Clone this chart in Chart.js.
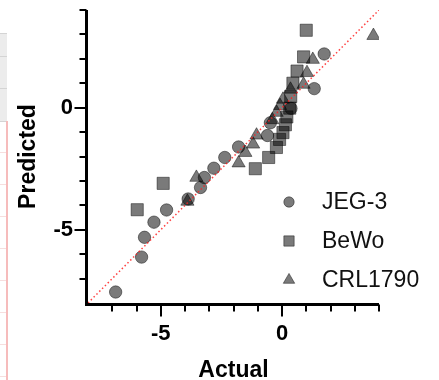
<!DOCTYPE html>
<html>
<head>
<meta charset="utf-8">
<title>Actual vs Predicted</title>
<script src="https://cdn.jsdelivr.net/npm/chart.js@4.4.1/dist/chart.umd.min.js"></script>
<style>
    html, body { margin: 0; padding: 0; background: #fff; }
    #wrap { position: relative; width: 439px; height: 380px; overflow: hidden; }
    #chart { position: absolute; left: 0; top: 0; }
    /* bit of spreadsheet left over from the screenshot crop */
    .sheet-head {
        position: absolute; left: 0; top: 33px; width: 7px; height: 87px;
        background: linear-gradient(#ececec, #ececec);
        border-top: 1px solid #d4d4d4; border-bottom: 1px solid #d4d4d4;
    }
    .sheet-head::before, .sheet-head::after {
        content: ''; position: absolute; left: 0; width: 7px; height: 1px; background: #d4d4d4;
    }
    .sheet-head::before { top: 22px; }
    .sheet-head::after { top: 54px; }
    .sheet-body {
        position: absolute; left: 0; top: 121px; width: 6px; height: 259px;
        border-right: 2px solid #f6bcbc;
        background: repeating-linear-gradient(to bottom, transparent 0, transparent 31px, #f7dede 31px, #f7dede 32px);
    }
</style>
</head>
<body>
<div id="wrap">
    <div class="sheet-head"></div>
    <div class="sheet-body"></div>
    <canvas id="chart" width="439" height="380"></canvas>
</div>
<script>
// Axis range (both axes share it) and labelled ticks
const axisMin = -8;
const axisMax = 4;
const tickStep = 1;
const labelledTicks = [-5, 0];

// Series: actual (x) and predicted (y) values
const seriesNames = ['JEG-3', 'BeWo', 'CRL1790'];
const seriesStyles = ['circle', 'rect', 'triangle'];

const jegActual    = [-6.86, -5.79, -5.67, -5.28, -4.76, -3.87, -3.36, -3.2, -2.81, -2.36, -1.79, -0.6, -0.48, 0.37, 1.33, 1.74];
const jegPredicted = [-7.55, -6.12, -5.31, -4.69, -4.19, -3.74, -3.27, -2.86, -2.48, -2.04, -1.61, -1.14, -0.62, -0.03, 0.78, 2.2];

const bewoActual    = [-5.97, -4.9, -1.1, -0.55, -0.23, -0.1, 0.04, 0.14, 0.2, 0.32, 0.36, 0.45, 0.62, 0.89, 1.0];
const bewoPredicted = [-4.18, -3.1, -2.5, -2.04, -1.63, -1.3, -1.02, -0.7, -0.38, -0.02, 0.46, 1.0, 1.5, 2.08, 3.17];

const crlActual    = [-3.9, -3.53, -1.79, -1.51, -1.19, -1.05, -0.4, -0.22, -0.08, 0.04, 0.35, 0.89, 1.03, 1.27, 3.77];
const crlPredicted = [-3.84, -2.86, -2.27, -1.84, -1.5, -1.13, -0.5, -0.2, 0.08, 0.34, 0.75, 0.95, 1.43, 1.97, 2.95];

const FONT = '"Liberation Sans", Arial, sans-serif';
const MARKER_FILL = 'rgba(0, 0, 0, 0.52)';
const MARKER_EDGE = 'rgba(0, 0, 0, 0.45)';
const markerRadius = { circle: 6.2, rect: 8.6, triangle: 7.6 };

function toPoints(xs, ys) {
    return xs.map(function (x, i) { return { x: x, y: ys[i] }; });
}

function tickLabel(value) {
    return labelledTicks.indexOf(value) !== -1 ? String(value) : null;
}

// keep the plot box where the reference has it, whatever the labels want
function fixBox(size) {
    return function (scale) {
        if (scale.isHorizontal()) scale.height = size; else scale.width = size;
        scale.paddingTop = 0;
        scale.paddingBottom = 0;
        scale.paddingLeft = 0;
        scale.paddingRight = 0;
    };
}

// Prism-style axes: thick lines, short minor ticks, long major ticks
const prismAxes = {
    id: 'prismAxes',
    afterDraw(chart) {
        const ctx = chart.ctx;
        const area = chart.chartArea;
        const xs = chart.scales.x;
        const ys = chart.scales.y;
        const axisX = area.left - 1.5;
        const axisY = area.bottom + 1.5;

        ctx.save();
        ctx.strokeStyle = '#000';
        ctx.lineCap = 'butt';

        // axis lines
        ctx.lineWidth = 3;
        ctx.beginPath();
        ctx.moveTo(axisX, area.top);
        ctx.lineTo(axisX, axisY);
        ctx.lineTo(area.right, axisY);
        ctx.stroke();

        // tick marks, one per unit, longer where labelled
        ctx.lineWidth = 2;
        for (let v = axisMin + tickStep; v <= axisMax; v += tickStep) {
            const len = labelledTicks.indexOf(v) !== -1 ? 12 : 7;
            const px = Math.round(xs.getPixelForValue(v));
            const py = Math.round(ys.getPixelForValue(v));
            ctx.beginPath();
            ctx.moveTo(px, axisY);
            ctx.lineTo(px, axisY + len);
            ctx.moveTo(axisX, py);
            ctx.lineTo(axisX - len, py);
            ctx.stroke();
        }

        // legend inside the plot, lower right
        const lx = area.left + 201;
        const ly = area.top + 192;
        const rowGap = 39;
        ctx.font = '23px ' + FONT;
        ctx.textBaseline = 'middle';
        ctx.textAlign = 'left';
        chart.data.datasets.forEach(function (ds, i) {
            if (ds.type === 'line') return;
            const y = ly + i * rowGap;
            ctx.fillStyle = MARKER_FILL;
            ctx.strokeStyle = MARKER_EDGE;
            ctx.lineWidth = 1;
            Chart.helpers.drawPoint(ctx, {
                pointStyle: ds.pointStyle,
                radius: ds.pointStyle === 'rect' ? 7.3 : (ds.pointStyle === 'triangle' ? 6.6 : 5.2),
                rotation: 0,
                borderWidth: 1
            }, lx, y);
            ctx.fillStyle = '#111';
            ctx.fillText(ds.label, lx + 33, y + 1);
        });
        ctx.restore();
    }
};

document.addEventListener('DOMContentLoaded', function () {
    const series = [
        toPoints(jegActual, jegPredicted),
        toPoints(bewoActual, bewoPredicted),
        toPoints(crlActual, crlPredicted)
    ];

    const datasets = series.map(function (pts, i) {
        return {
            type: 'scatter',
            label: seriesNames[i],
            data: pts,
            pointStyle: seriesStyles[i],
            pointRadius: markerRadius[seriesStyles[i]],
            pointHoverRadius: markerRadius[seriesStyles[i]],
            backgroundColor: MARKER_FILL,
            borderColor: MARKER_EDGE,
            borderWidth: 1,
            order: 2
        };
    });

    // line of identity
    datasets.push({
        type: 'line',
        label: 'identity',
        data: [{ x: axisMin, y: axisMin }, { x: axisMax, y: axisMax }],
        borderColor: 'rgba(255, 30, 30, 0.85)',
        borderWidth: 1.5,
        borderDash: [1.5, 2.5],
        pointRadius: 0,
        fill: false,
        order: 1
    });

    const tickFont = { family: FONT, size: 22, weight: 'bold' };
    const titleFont = { family: FONT, size: 23, weight: 'bold' };

    new Chart(document.getElementById('chart'), {
        type: 'scatter',
        data: { datasets: datasets },
        options: {
            responsive: false,
            animation: false,
            layout: { padding: { left: 0, top: 10, right: 60, bottom: 0 } },
            plugins: {
                legend: { display: false },
                tooltip: { enabled: false }
            },
            scales: {
                x: {
                    type: 'linear',
                    min: axisMin,
                    max: axisMax,
                    grid: { display: false, drawTicks: false },
                    border: { display: false },
                    ticks: {
                        stepSize: tickStep,
                        autoSkip: false,
                        maxRotation: 0,
                        padding: 18,
                        color: '#000',
                        font: tickFont,
                        callback: tickLabel
                    },
                    title: {
                        display: true,
                        text: 'Actual',
                        color: '#000',
                        font: titleFont,
                        padding: { top: 0, bottom: -4.5 }
                    },
                    afterFit: fixBox(77)
                },
                y: {
                    type: 'linear',
                    min: axisMin,
                    max: axisMax,
                    grid: { display: false, drawTicks: false },
                    border: { display: false },
                    ticks: {
                        stepSize: tickStep,
                        autoSkip: false,
                        padding: 15,
                        color: '#000',
                        font: tickFont,
                        callback: tickLabel
                    },
                    title: {
                        display: true,
                        text: 'Predicted',
                        color: '#000',
                        font: titleFont,
                        padding: { top: 14.6, bottom: 0 }
                    },
                    afterFit: fixBox(88)
                }
            }
        },
        plugins: [prismAxes]
    });
});
</script>
</body>
</html>
